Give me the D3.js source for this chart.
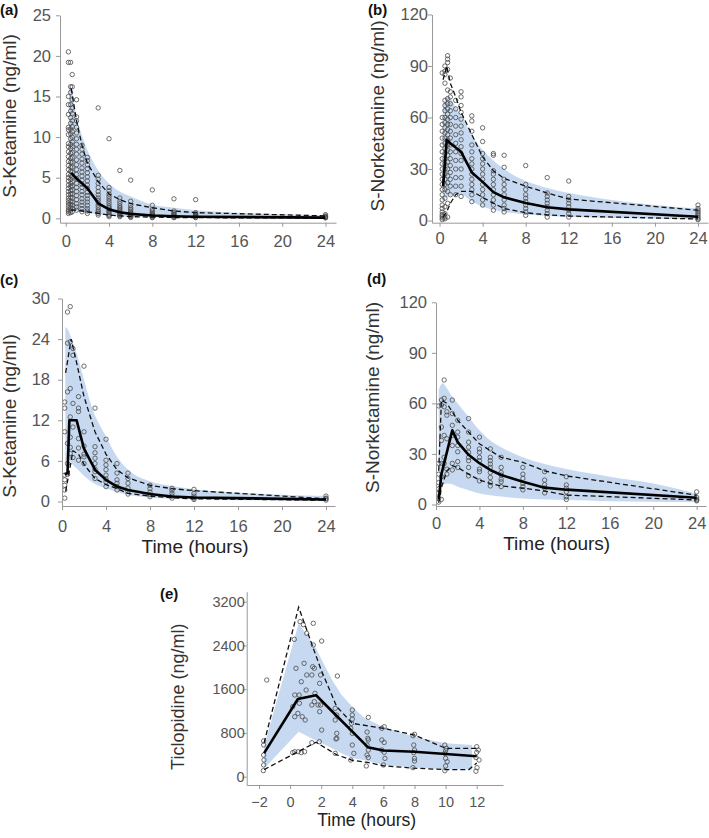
<!DOCTYPE html>
<html><head><meta charset="utf-8">
<script src="https://cdn.jsdelivr.net/npm/d3@7"></script>
<style>
body{margin:0;background:#fff}
svg{display:block}
text{font-family:"Liberation Sans",Arial,Helvetica,sans-serif}
</style>
</head><body>
<svg id="chart" width="709" height="838"></svg>
<script>
// ---------------- DATA ----------------
const panelLabels = ["(a)", "(b)", "(c)", "(d)", "(e)"];
const yTitles = ["S-Ketamine (ng/ml)", "S-Norketamine (ng/ml)", "S-Ketamine (ng/ml)", "S-Norketamine (ng/ml)", "Ticlopidine (ng/ml)"];
const xTitle = "Time (hours)";
const xTicks24 = [0, 4, 8, 12, 16, 20, 24];
const xTicksE = [-2, 0, 2, 4, 6, 8, 10, 12];
const yTicksA = [0, 5, 10, 15, 20, 25];
const yTicksB = [0, 30, 60, 90, 120];
const yTicksC = [0, 6, 12, 18, 24, 30];
const yTicksD = [0, 30, 60, 90, 120];
const yTicksE = [0, 800, 1600, 2400, 3200];

// panel (a) observed: [time, [concentrations]]
const obsA = [
 [0.25, [20.5, 19.2, 15.0, 14.0, 12.8, 11.2, 10.9, 10.3, 9.2, 8.8, 8.2, 7.6, 7.0, 6.5, 6.0, 5.4, 5.0, 4.6, 4.1, 3.7, 3.3, 2.9, 2.5, 2.2, 1.9, 1.6, 1.3, 1.0, 0.8, 0.6]],
 [0.45, [19.2, 16.2, 15.5, 14.0, 13.2, 12.4, 11.7, 11.0, 10.4, 9.8, 9.1, 8.6, 8.0, 7.4, 6.9, 6.3, 5.8, 5.3, 4.8, 4.3, 3.9, 3.4, 3.0, 2.6, 2.1, 1.7, 1.3, 1.0, 0.7]],
 [0.6, [17.7, 16.2, 14.6, 13.6, 12.9, 12.0, 11.3, 10.7, 10.0, 9.4, 8.8, 8.1, 7.5, 6.9, 6.3, 5.7, 5.1, 4.5, 4.0, 3.5, 3.0, 2.5, 2.0, 1.6, 1.2, 0.8]],
 [1.0, [14.6, 12.5, 12.0, 11.2, 10.5, 9.8, 9.1, 8.5, 7.9, 7.2, 6.6, 6.0, 5.4, 4.9, 4.3, 3.8, 3.3, 2.8, 2.3, 1.8, 1.4, 1.0]],
 [1.5, [9.0, 8.5, 7.9, 7.3, 6.8, 6.2, 5.7, 5.2, 4.7, 4.2, 3.8, 3.3, 2.9, 2.4, 2.0, 1.6, 1.2, 0.8]],
 [2.0, [7.5, 7.1, 6.6, 6.1, 5.6, 5.1, 4.6, 4.1, 3.7, 3.2, 2.8, 2.4, 2.0, 1.6, 1.2, 0.9, 0.6]],
 [3.0, [13.6, 5.3, 4.8, 4.3, 3.8, 3.3, 2.9, 2.5, 2.2, 1.9, 1.6, 1.3, 1.0, 0.8, 0.6, 0.4]],
 [4.0, [9.8, 3.8, 3.4, 3.0, 2.7, 2.4, 2.1, 1.8, 1.5, 1.3, 1.1, 0.9, 0.7, 0.5, 0.35, 0.2]],
 [5.0, [5.9, 2.5, 2.1, 1.8, 1.5, 1.3, 1.1, 0.9, 0.7, 0.55, 0.4, 0.3, 0.2]],
 [6.0, [4.7, 2.1, 1.6, 1.3, 1.1, 0.9, 0.7, 0.55, 0.4, 0.3, 0.2, 0.1]],
 [8.0, [3.5, 1.6, 1.1, 0.9, 0.7, 0.55, 0.45, 0.35, 0.25, 0.15, 0.08]],
 [10.0, [2.4, 0.9, 0.7, 0.55, 0.45, 0.35, 0.25, 0.15, 0.08]],
 [12.0, [2.3, 0.7, 0.55, 0.45, 0.35, 0.25, 0.15, 0.08]],
 [24.0, [0.45, 0.3, 0.2, 0.15, 0.1, 0.05]]
];
const medA = [[0.5, 5.6], [1, 4.9], [1.5, 4.3], [2, 3.7], [3, 1.85], [4, 1.1], [5, 0.75], [6, 0.55], [8, 0.35], [10, 0.25], [12, 0.2], [24, 0.08]];
const hiA = [[0.5, 16], [1, 12], [1.5, 9], [2, 6.8], [3, 4.5], [4, 3.0], [5, 2.3], [6, 1.8], [8, 1.3], [10, 0.9], [12, 0.7], [24, 0.3]];
const loA = [[0.5, 1.0], [1, 1.0], [1.5, 0.9], [2, 0.8], [3, 0.6], [4, 0.4], [5, 0.3], [6, 0.2], [8, 0.15], [10, 0.1], [12, 0.08], [24, 0.03]];
const bandTA = [0.3, 0.5, 1, 1.5, 2, 3, 4, 5, 6, 8, 10, 12, 16, 20, 24];
const bandHiA = [16.3, 16, 12.5, 10.2, 8.4, 5.9, 4.3, 3.3, 2.7, 1.7, 1.3, 1.0, 0.7, 0.5, 0.4];
const bandLoA = [0.8, 0.9, 0.9, 0.8, 0.7, 0.5, 0.35, 0.25, 0.2, 0.12, 0.08, 0.06, 0.04, 0.03, 0.02];

// panel (b)
const obsB = [
 [0.25, [0.5, 1.5, 2.5, 3.5, 5, 7, 9, 12, 15, 18, 21, 24, 27, 30, 33, 36, 40, 44, 48, 52, 56, 60, 86]],
 [0.5, [1, 2, 4, 8, 13, 18, 21, 24, 27, 30, 33, 36, 39, 42, 45, 48, 51, 54, 57, 60, 64, 67, 70, 80, 85, 87, 90]],
 [0.75, [2, 10, 17, 22, 26, 30, 34, 38, 41, 44, 47, 50, 53, 56, 59, 62, 65, 68, 71, 76, 88, 92, 94, 96]],
 [1.0, [15, 20, 24, 28, 32, 36, 40, 44, 48, 52, 56, 60, 64, 68, 72, 75, 83]],
 [1.5, [15, 20, 25, 30, 35, 40, 45, 50, 55, 60, 65, 70]],
 [2.0, [14, 20, 25, 30, 35, 39, 43, 47, 51, 55, 59, 63, 67, 72, 75]],
 [3.0, [11, 15, 18, 21, 24, 27, 30, 33, 36, 40, 44, 52, 58, 61]],
 [4.0, [9, 12, 15, 18, 21, 24, 27, 30, 33, 36, 39, 46, 54]],
 [5.0, [6, 9, 12, 15, 18, 21, 24, 27, 29, 38, 39]],
 [6.0, [5, 7, 9, 12, 15, 18, 21, 24, 31, 38]],
 [8.0, [3, 5, 7, 9, 11, 13, 15, 18, 21, 32]],
 [10.0, [2, 4, 6, 8, 10, 12, 14, 16, 25]],
 [12.0, [2, 4, 6, 8, 10, 12, 14, 23]],
 [24.0, [0.5, 1, 2, 3, 4, 5, 6, 7, 9]]
];
const medB = [[0.33, 20], [0.67, 47], [1, 45], [1.5, 42.5], [2, 40], [3, 28], [4, 22.5], [5, 16.5], [6, 13.5], [8, 10.2], [10, 7.7], [12, 6.5], [24, 2.2]];
const hiB = [[0.33, 82], [0.67, 90], [1, 80], [1.5, 72], [2, 63], [3, 50], [4, 37], [5, 29], [6, 24.5], [8, 20], [10, 16], [12, 12.5], [24, 6]];
const loB = [[0.33, 2], [0.67, 5], [1, 10], [1.5, 15], [2, 17], [3, 17], [4, 13.5], [5, 10], [6, 7], [8, 4.5], [10, 3.3], [12, 2.6], [24, 0.9]];
const bandTB = [0.3, 0.5, 0.75, 1, 1.5, 2, 3, 4, 5, 6, 8, 10, 12, 16, 20, 24];
const bandHiB = [66, 70, 72, 71, 66, 61, 50, 41, 35, 30, 23, 19, 16, 12, 9, 7];
const bandLoB = [10, 13, 14, 14.5, 15, 15, 11, 8, 6.2, 5, 3.5, 2.6, 2, 1.4, 1, 0.8];

// panel (c)
const obsC = [
 [0.25, [0.5, 1.7, 2.4, 3.2, 3.9, 10.3, 13.8, 14.7]],
 [0.5, [28.0, 23.4, 16.2, 8.6, 5.6, 4.0]],
 [0.75, [28.8, 23.6, 16.7, 12.5, 8.0, 7.1, 9.5]],
 [1.0, [22.6, 21.6, 14.5, 11.0, 6.5]],
 [1.5, [15.5, 13.8, 13.3, 9.3, 7.9, 6.1]],
 [2.0, [20.0, 10.3, 8.2, 6.6, 5.6, 7.0]],
 [3.0, [13.8, 8.1, 7.2, 6.4, 5.6, 4.4, 3.4, 4.8]],
 [4.0, [9.2, 6.1, 5.4, 4.7, 3.9, 2.9, 2.2, 3.3]],
 [5.0, [5.6, 4.2, 3.2, 2.2, 1.7, 2.7]],
 [6.0, [4.2, 3.4, 2.7, 2.0, 1.5, 1.1]],
 [8.0, [2.4, 1.9, 1.4, 1.0, 0.7]],
 [10.0, [1.95, 1.65, 1.2, 0.8, 0.5]],
 [12.0, [1.8, 1.2, 0.8, 0.5, 0.3]],
 [24.0, [0.8, 0.5, 0.4, 0.2]]
];
const medC = [[0.25, 4.0], [0.5, 4.2], [0.67, 12], [1.33, 12], [2, 7.8], [3, 4.7], [4, 3.2], [5, 2.2], [6, 1.7], [8, 1.1], [10, 0.75], [12, 0.6], [24, 0.3]];
const hiC = [[0.33, 19], [0.83, 24], [1.33, 20.5], [2, 15.5], [3, 10.3], [4, 7], [5, 4.7], [6, 3.5], [8, 2.4], [10, 1.9], [12, 1.6], [24, 0.4]];
const loC = [[0.33, 1.5], [0.67, 4.5], [1, 7.5], [1.5, 7.0], [2, 5.5], [3, 3.4], [4, 2.5], [5, 1.9], [6, 1.2], [8, 0.8], [10, 0.55], [12, 0.4], [24, 0.2]];
const bandTC = [0.3, 0.5, 1, 1.5, 2, 2.7, 4, 5, 6, 8, 10, 12, 16, 20, 24];
const bandHiC = [25.8, 25.5, 23.5, 21, 18, 14, 9.6, 6.6, 4.7, 3.0, 2.3, 1.8, 1.3, 1.0, 0.8];
const bandLoC = [5.5, 6.3, 5.4, 4.6, 3.8, 2.9, 1.95, 1.4, 1.0, 0.6, 0.45, 0.35, 0.2, 0.15, 0.1];

// panel (d)
const obsD = [
 [0.25, [1.4, 3.6, 6.6, 9.3, 13, 18, 24.4, 58.5]],
 [0.5, [3, 16.5, 24.4, 38, 46, 59, 62]],
 [0.75, [24.4, 28, 41, 58, 63, 73.9]],
 [1.0, [18, 21, 39, 53, 55]],
 [1.5, [20.5, 24.4, 35, 41, 47, 54, 62]],
 [2.0, [22, 25.5, 31.3, 35, 40, 43, 50]],
 [3.0, [17, 22, 26, 28, 31, 34, 37, 43, 51]],
 [4.0, [14, 19.5, 21, 26, 28, 31, 33, 40]],
 [5.0, [11, 13, 16, 19, 22, 24, 26, 28, 33]],
 [6.0, [10.6, 13.5, 15, 17.5, 19, 22, 28]],
 [8.0, [8.7, 10.6, 12.5, 15.5, 18, 22]],
 [10.0, [6.9, 9.8, 11.8, 14.5, 19.5]],
 [12.0, [3, 4.6, 7.5, 9.6, 11.6, 16.5]],
 [24.0, [2.2, 2.6, 3.2, 4.3, 7.5]]
];
const medD = [[0.25, 3], [0.5, 18], [1.5, 44], [2, 37], [3, 29.5], [4, 24.5], [5, 20.5], [6, 17.5], [8, 13.5], [10, 10], [12, 8.8], [24, 4]];
const hiD = [[0.25, 20], [0.5, 62], [1, 60], [1.5, 55], [2, 50], [3, 43], [4, 36], [5, 32], [6, 28], [8, 25], [10, 20], [12, 17], [24, 5.5]];
const loD = [[0.25, 1], [0.5, 10], [1, 20], [1.5, 23], [2, 22], [3, 18], [4, 14.5], [5, 12.5], [6, 11], [8, 9.7], [10, 8], [12, 5.6], [24, 2.7]];
const bandTD = [0.25, 0.6, 1, 1.5, 2, 3, 4, 5, 6, 8, 10, 12, 16, 20, 24];
const bandHiD = [68, 72, 69, 64, 60, 52, 44, 38, 34, 28, 24, 21, 16.5, 12.5, 6.5];
const bandLoD = [10, 11.5, 12.5, 12, 10.5, 8.5, 6.6, 5.5, 4.7, 3.6, 3.0, 2.6, 2.0, 1.7, 1.5];

// panel (e) observed: [time, concentration]
const obsE = [
 [-1.7, 653], [-1.7, 580], [-1.7, 396], [-1.68, 305], [-1.7, 214], [-1.72, 110], [-1.5, 1768],
 [0.27, 2512], [0.64, 2835], [0.85, 2780], [1.07, 2622], [0.38, 1982], [0.9, 2073], [0.72, 1737], [1.07, 1860],
 [1.03, 1585], [0.3, 1494], [0.58, 1494], [0.6, 1342], [0.17, 1280], [0.3, 1097], [0.5, 1158], [0.78, 1097],
 [0.97, 1037], [0.3, 457], [0.52, 457], [0.72, 440], [0.93, 457], [0.17, 440],
 [1.49, 2805], [2.03, 2481], [1.49, 2408], [1.45, 2011], [1.56, 1982], [1.4, 1860], [1.96, 1860], [1.9, 1707],
 [1.6, 1525], [1.56, 1372], [1.8, 1311], [1.4, 1311], [1.96, 1311], [1.9, 1189], [2.03, 853], [1.88, 640], [1.4, 622],
 [3.04, 1841], [2.9, 1250], [3.0, 1128], [2.9, 1037], [3.0, 793], [3.0, 702], [2.95, 690], [2.9, 427],
 [4.0, 1220], [4.0, 1128], [4.0, 1053], [3.95, 976], [3.9, 885], [4.0, 793], [4.0, 579], [4.1, 427], [3.9, 305],
 [5.03, 1085], [4.95, 817], [5.0, 702], [5.03, 671], [4.95, 579], [5.03, 488], [4.95, 396], [5.03, 351], [4.9, 196],
 [6.05, 914], [5.9, 885], [5.9, 671], [6.05, 625], [5.9, 488], [6.05, 445], [6.1, 335], [6.0, 214],
 [8.0, 775], [7.9, 750], [7.95, 579], [8.0, 488], [7.95, 440], [8.0, 335], [8.0, 287], [7.9, 165],
 [9.95, 579], [10.05, 518], [10.0, 475], [9.95, 427], [10.0, 335], [10.1, 274], [10.0, 196], [9.95, 110],
 [12.0, 548], [12.1, 488], [12.0, 445], [11.95, 351], [12.15, 305], [12.02, 165], [11.95, 100]
];
const medE = [[-1.67, 430], [0.5, 1420], [1.67, 1490], [5, 540], [6, 480], [8, 455], [10, 415], [12, 375]];
const hiE = [[-1.67, 620], [0.55, 3100], [1.3, 2500], [2, 1950], [3, 1280], [4, 976], [6, 885], [8, 762], [10, 519], [12, 519]];
const loE = [[-1.67, 130], [1.67, 630], [3, 400], [4, 300], [5, 260], [6, 200], [8, 155], [10, 130], [11.5, 130], [12, 250]];
const bandTE = [-1.67, 0.55, 1.6, 2.7, 3.3, 4, 4.8, 6, 8, 10, 11.7];
const bandHiE = [560, 2800, 2380, 1770, 1500, 1280, 1070, 910, 730, 610, 580];
const bandLoE = [150, 820, 670, 520, 430, 340, 300, 215, 170, 135, 130];

// ---------------- LAYOUT ----------------
const panels = [
 {lab: 0, obs: obsA, grouped: true, med: medA, hi: hiA, lo: loA, bt: bandTA, bh: bandHiA, bl: bandLoA,
  L: 60, R: 336, T: 15.3, B: 222.7, xDom: [-0.53, 24.97], yDom: [-0.54, 25], xt: xTicks24, yt: yTicksA,
  xpad: 9, ypad: 5, tfs: 16.5, lx: 0, ly: 15, ytx: 16, yty: 116, xtitle: false, curve: d3.curveMonotoneX},
 {lab: 1, obs: obsB, grouped: true, med: medB, hi: hiB, lo: loB, bt: bandTB, bh: bandHiB, bl: bandLoB,
  L: 432, R: 708, T: 14.5, B: 222.7, xDom: [-0.70, 24.93], yDom: [-1.28, 120], xt: xTicks24, yt: yTicksB,
  xpad: 6, ypad: 0, tfs: 16.5, lx: 368, ly: 15, ytx: 384, yty: 116, xtitle: false, curve: d3.curveMonotoneX},
 {lab: 2, obs: obsC, grouped: true, med: medC, hi: hiC, lo: loC, bt: bandTC, bh: bandHiC, bl: bandLoC,
  L: 62, R: 335, T: 298.5, B: 506, xDom: [0, 24.82], yDom: [-0.665, 30], xt: xTicks24, yt: yTicksC,
  xpad: 10, ypad: 8, tfs: 16.5, lx: 0, ly: 285, ytx: 16, yty: 416, xtitle: true, xtx: 195, xty: 553, xtfs: 19, curve: d3.curveMonotoneX},
 {lab: 3, obs: obsD, grouped: true, med: medD, hi: hiD, lo: loD, bt: bandTD, bh: bandHiD, bl: bandLoD,
  L: 436, R: 706, T: 302.3, B: 506, xDom: [0, 24.86], yDom: [-0.89, 120], xt: xTicks24, yt: yTicksD,
  xpad: 7, ypad: 5, tfs: 16.5, lx: 367, ly: 284, ytx: 379, yty: 397.5, xtitle: true, xtx: 556.7, xty: 550, xtfs: 19, curve: d3.curveMonotoneX},
 {lab: 4, obs: obsE, grouped: false, med: medE, hi: hiE, lo: loE, bt: bandTE, bh: bandHiE, bl: bandLoE,
  L: 246.7, R: 503, T: 591.7, B: 785, xDom: [-2.79, 13.69], yDom: [-152, 3383], xt: xTicksE, yt: yTicksE,
  xpad: 8, ypad: -2, tfs: 14.5, lx: 160, ly: 599, ytx: 184, yty: 696.7, ytfs: 18, xtitle: true, xtx: 366.7, xty: 826, xtfs: 17.6, curve: d3.curveLinear}
];

const svg = d3.select("#chart");
const fmt = d3.format("d");

panels.forEach(p => {
  const x = d3.scaleLinear().domain(p.xDom).range([p.L, p.R]);
  const y = d3.scaleLinear().domain(p.yDom).range([p.B, p.T]);
  const g = svg.append("g");

  const band = p.bt.map((t, i) => [t, p.bl[i], p.bh[i]]);
  g.append("path").datum(band)
    .attr("d", d3.area().x(d => x(d[0])).y0(d => y(d[1])).y1(d => y(d[2])).curve(p.curve))
    .attr("fill", "#c6d9f0");

  const pts = p.grouped ? p.obs.flatMap(([t, vs]) => vs.map(v => [t, v])) : p.obs;
  g.selectAll("circle").data(pts).join("circle")
    .attr("cx", d => x(d[0])).attr("cy", d => y(d[1])).attr("r", 2.2)
    .attr("fill", "none").attr("stroke", "#4a4a4a").attr("stroke-width", 0.8);

  const line = d3.line().x(d => x(d[0])).y(d => y(d[1]));
  [p.lo, p.hi].forEach(arr => {
    g.append("path").datum(arr).attr("d", line)
      .attr("fill", "none").attr("stroke", "#111").attr("stroke-width", 1.3)
      .attr("stroke-dasharray", "5,3");
  });
  g.append("path").datum(p.med).attr("d", line)
    .attr("fill", "none").attr("stroke", "#000").attr("stroke-width", 2.6)
    .attr("stroke-linejoin", "round");

  const xa = g.append("g").attr("transform", `translate(0,${p.B})`)
    .call(d3.axisBottom(x).tickValues(p.xt).tickFormat(fmt).tickSize(4).tickSizeOuter(0).tickPadding(p.xpad));
  const ya = g.append("g").attr("transform", `translate(${p.L},0)`)
    .call(d3.axisLeft(y).tickValues(p.yt).tickFormat(fmt).tickSize(4).tickSizeOuter(0).tickPadding(p.ypad));
  [xa, ya].forEach(a => {
    a.select(".domain").attr("stroke", "#999").attr("stroke-width", 1);
    a.selectAll(".tick line").attr("stroke", "#999");
    a.selectAll(".tick text").attr("fill", "#555").style("font-size", p.tfs + "px")
      .style("font-family", '"Liberation Sans", Arial, sans-serif');
  });

  svg.append("text").attr("x", p.lx).attr("y", p.ly).text(panelLabels[p.lab])
    .attr("font-weight", "bold").attr("font-size", 15).attr("fill", "#111");
  svg.append("text").attr("transform", `translate(${p.ytx},${p.yty}) rotate(-90)`)
    .attr("text-anchor", "middle").attr("font-size", p.ytfs || 19).attr("fill", "#333")
    .text(yTitles[p.lab]);
  if (p.xtitle) {
    svg.append("text").attr("x", p.xtx).attr("y", p.xty).attr("text-anchor", "middle")
      .attr("font-size", p.xtfs).attr("fill", "#222").text(xTitle);
  }
});
</script>
</body></html>
